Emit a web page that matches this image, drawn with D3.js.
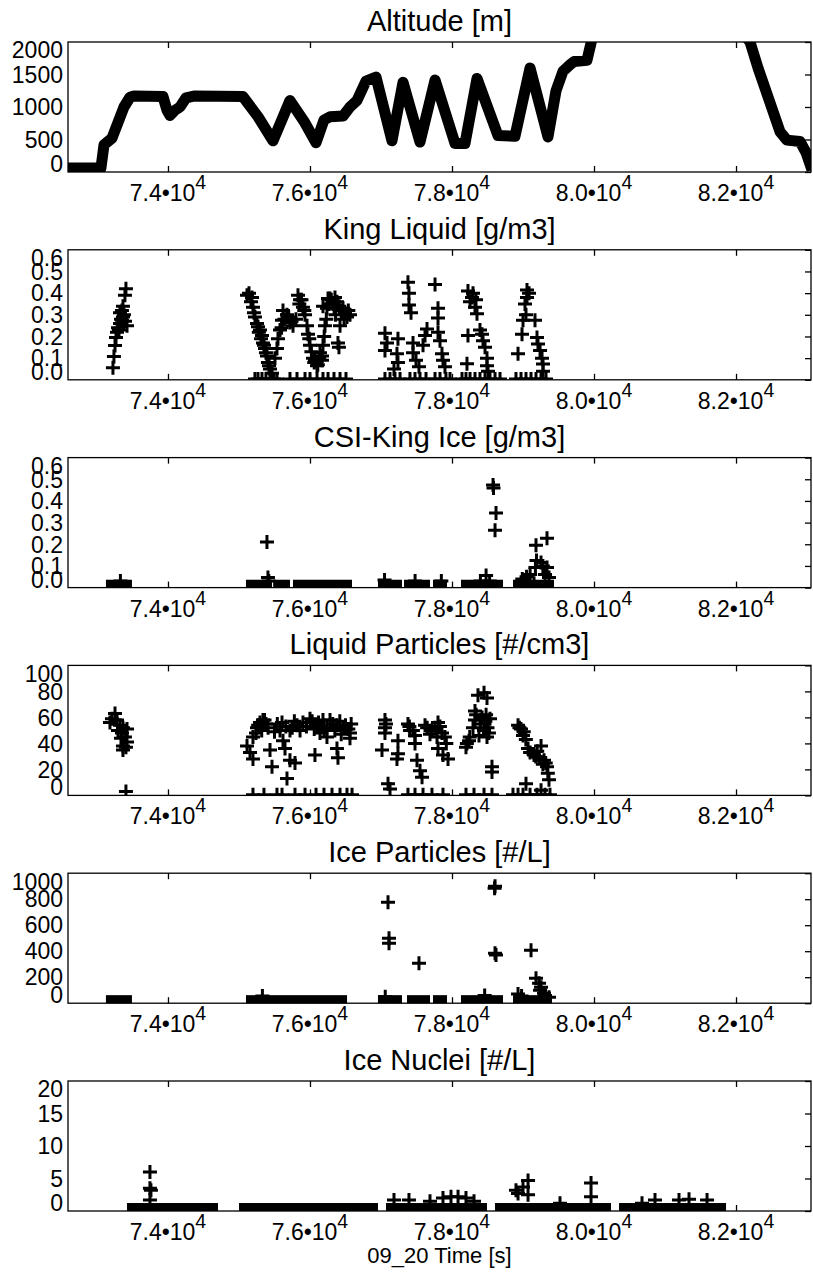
<!DOCTYPE html>
<html><head><meta charset="utf-8">
<script src="https://cdn.jsdelivr.net/npm/d3@7"></script>
<style>
html,body{margin:0;padding:0;background:#fff;}
svg{display:block;}
text{font-family:"Liberation Sans",Arial,Helvetica,sans-serif;fill:#000;}
</style></head><body>
<svg id="chart" width="813" height="1275"></svg>
<script>
// ---------------- DATA ----------------
const timeDomain = [72592, 83056];
const xTickValues = [74000, 76000, 78000, 80000, 82000];
const xTickMantissa = ["7.4", "7.6", "7.8", "8.0", "8.2"];
const xTickExponent = "4";
const xAxisLabel = "09_20 Time [s]";
const panelTitles = ["Altitude [m]", "King Liquid [g/m3]", "CSI-King Ice [g/m3]",
  "Liquid Particles [#/cm3]", "Ice Particles [#/L]", "Ice Nuclei [#/L]"];

const altitudeTicks = [0, 500, 1000, 1500, 2000];
const altitudeTickLabels = ["0", "500", "1000", "1500", "2000"];
const waterTicks = [0, 0.1, 0.2, 0.3, 0.4, 0.5, 0.6];
const waterTickLabels = ["0.0", "0.1", "0.2", "0.3", "0.4", "0.5", "0.6"];
const liquidCountTicks = [0, 20, 40, 60, 80, 100];
const liquidCountTickLabels = ["0", "20", "40", "60", "80", "100"];
const iceCountTicks = [0, 200, 400, 600, 800, 1000];
const iceCountTickLabels = ["0", "200", "400", "600", "800", "1000"];
const nucleiTicks = [0, 5, 10, 15, 20];
const nucleiTickLabels = ["0", "5", "10", "15", "20"];

// altitude [time s, m]
const altitude = [[72592,60],[73056,60],[73099,420],[73211,520],[73296,760],[73380,1000],[73465,1150],[73521,1170],
 [73930,1160],[73986,950],[74028,870],[74099,950],[74169,1000],[74254,1140],[74380,1170],[75056,1160],[75268,850],
 [75479,480],[75718,1100],[75916,780],[76085,450],[76197,800],[76282,850],[76465,860],[76563,1000],[76662,1100],
 [76789,1400],[76930,1460],[77155,480],[77310,1380],[77549,460],[77761,1415],[78042,440],[78183,440],[78352,1440],
 [78648,560],[78887,550],[79099,1600],[79352,540],[79465,1250],[79563,1550],[79662,1650],[79719,1700],[79901,1720],
 [79972,2050],[80085,2400],[80789,3000],[81493,3000],[82127,2100],[82197,2000],[82310,1600],[82620,620],[82718,490],
 [82901,470],[82986,300],[83070,30]];

// King liquid water content [time, g/m3]
const kingLiquid = [[73225,.056],[73239,.107],[73254,.158],[73268,.195],[73282,.22],[73296,.24],[73324,.26],[73352,.275],
 [73366,.29],[73423,.25],[73352,.32],[73394,.39],[73408,.42],[73324,.31],[73366,.34],[73380,.30],[73338,.28],[73310,.23],[73395,.27],
 [75113,.39],[75141,.40],[75169,.36],[75183,.38],[75197,.335],[75211,.31],[75225,.29],[75254,.26],[75268,.245],[75296,.23],
 [75310,.19],[75324,.205],[75338,.17],[75352,.16],[75366,.145],[75380,.125],[75394,.11],[75408,.08],[75423,.065],[75437,.05],
 [75465,.03],[75507,.10],[75535,.145],[75549,.19],[75578,.23],[75606,.275],[75620,.32],[75676,.30],[75718,.265],[75761,.25],
 [75803,.28],[75831,.39],[75859,.37],[75901,.335],[75930,.30],[75958,.25],[75972,.21],[76000,.16],[76042,.10],[76070,.09],
 [76099,.065],[76141,.125],[76183,.16],[76169,.11],[76169,.09],[76211,.25],[76239,.33],[76254,.375],[76183,.34],[76282,.375],
 [76324,.35],[76352,.38],[76380,.36],[76394,.17],[76408,.15],[76423,.25],[76465,.33],[76493,.31],[76521,.29],[76563,.30],
 [75280,.22],[75600,.24],[75640,.28],[75700,.29],[75740,.27],[75850,.35],[75880,.37],[75920,.32],[75990,.19],[76020,.13],
 [76060,.08],[76110,.07],[76130,.10],[76200,.20],[76230,.28],[76270,.35],[76300,.37],[76340,.33],[76360,.30],[76410,.34],
 [76440,.32],[76480,.28],[76540,.32],
 [77056,.215],[77085,.17],[77056,.135],[77239,.19],[77225,.12],[77239,.08],[77380,.45],[77394,.40],[77394,.345],[77423,.31],
 [77451,.17],[77451,.125],[77493,.09],[77592,.16],[77620,.205],[77648,.235],[77761,.44],[77803,.33],[77803,.285],[77803,.22],
 [77831,.18],[77859,.12],[77873,.09],[77901,.06],[77183,.05],[77535,.06],
 [78225,.205],[78211,.074],[78225,.41],[78254,.36],[78282,.38],[78296,.40],[78324,.335],[78338,.37],[78352,.305],[78394,.23],
 [78423,.21],[78437,.18],[78465,.15],[78493,.10],[78493,.065],[78507,.04],
 [78930,.12],[78986,.21],[79000,.275],[79028,.35],[79042,.30],[79056,.415],[79056,.38],[79085,.40],[79169,.275],[79197,.195],
 [79211,.165],[79240,.135],[79268,.10],[79282,.073],[79282,.04]];
const kingLiquidZeroTimes = [75225,75268,75324,75380,75437,75493,75535,75718,75817,75930,76000,76099,76183,76254,76338,76423,76507,
 77056,77127,77197,77268,77408,77479,77549,77634,77761,77831,77915,77972,78141,78197,78254,78324,78394,78465,78535,78606,78676,
 78901,78972,79042,79113,79183,79254,79324];
const kingLiquidZeroLevel = 0.004;

// CSI-King ice water content [time, g/m3]
const csiIce = [[75394,.21],[75408,.047],[75420,.03],[73330,.03],[77050,.035],[77480,.03],[77850,.03],[78400,.03],[78480,.056],
 [78578,.474],[78585,.46],[78620,.344],[78606,.265],[78530,.03],
 [79183,.195],[79338,.228],[79175,.093],[79254,.116],[79338,.093],[79366,.047],[79155,.02],[79190,.125],[79280,.10],
 [79100,.06],[78990,.04],[79050,.05],[79310,.06]];
// runs of consecutive near-zero readings [start time, end time]
const csiIceZeroRuns = [[73225,73394],[75197,75366],[75580,75620],[75859,76493],[77056,77197],[77423,77592],[77831,77831],
 [78225,78620],[78958,79338]];
const csiIceZeroLevel = 0.004;

// liquid particle concentration [time, #/cm3]
const liquidParticles = [[73254,63],[73183,56],[73282,58],[73324,54],[73366,52],[73423,51],[73352,48],[73394,45],[73423,41],
 [73366,38],[73366,35],[73211,59],[73296,50],[73338,44],[73408,37],[73408,3],
 [75113,38],[75197,28],[75155,33],[75197,45],[75254,52],[75296,56],[75338,58],[75380,55],[75437,35],[75465,22],[75606,56],
 [75578,50],[75620,42],[75648,36],[75676,13],[75718,27],[75789,25],[75718,50],[75817,54],[75901,56],[76000,59],[76099,54],
 [76183,58],[76141,48],[76070,31],[76239,52],[76282,58],[76380,54],[76465,52],[76563,48],[76563,44],[76380,36],[76394,29],[76239,45],
 [75240,48],[75270,54],[75320,50],[75360,58],[75410,52],[75500,49],[75540,55],[75660,53],[75750,52],[75780,57],[75860,50],
 [75950,53],[76030,57],[76060,51],[76120,56],[76160,53],[76200,50],[76320,55],[76350,50],[76420,57],[76440,47],[76500,54],
 [76540,51],[76580,55],
 [77056,58],[77056,52],[77056,48],[77014,35],[77239,42],[77239,32],[77225,28],[77099,9],[77127,5],[77380,55],[77408,50],
 [77479,46],[77479,40],[77507,27],[77549,19],[77578,14],[77620,54],[77718,50],[77803,56],[77859,48],[77803,36],[77873,31],
 [77944,28],[77789,45],[77070,55],[77400,53],[77450,50],[77650,52],[77690,47],[77760,52],[77830,53],[77900,45],[77920,40],
 [78197,37],[78240,42],[78324,58],[78324,65],[78366,77],[78451,79],[78493,75],[78423,60],[78451,50],[78493,45],[78535,59],
 [78563,22],[78563,18],[78380,46],[78296,52],[78210,40],[78250,45],[78340,62],[78400,55],[78470,57],[78520,48],[78480,62],[78500,52],
 [78930,54],[78972,51],[79000,46],[79071,36],[79155,31],[79226,29],[79254,38],[79296,27],[79338,22],[79366,12],[79042,9],[79254,4],
 [78950,52],[79010,49],[79040,43],[79100,33],[79180,30],[79200,34],[79280,24],[79320,25],[79350,17]];
const liquidParticlesZeroTimes = [75197,75352,75535,75606,75789,75930,76085,76197,76310,76423,76521,76592,
 77380,77479,77592,77718,77873,78197,78310,78451,78563,78859,78930,79000,79099,79197,79310,79380];
const liquidParticlesZeroLevel = 0.5;

// ice particle concentration [time, #/L]
const iceParticles = [[77099,777],[77113,500],[77113,461],[77535,308],[78606,900],[78600,885],[78606,385],[78620,370],
 [79113,408],[79183,192],[79226,154],[79254,123],[79296,77],[79366,46],[79240,100],[79310,60],
 [75330,55],[77060,50],[78460,60],[78930,70],[78980,55]];
const iceParticlesZeroRuns = [[73225,73394],[75197,76423],[77056,77197],[77465,77592],[77831,77831],[78225,78620],[78958,79310]];
const iceParticlesZeroLevel = 8;

// ice nuclei concentration [time, #/L]
const iceNuclei = [[73746,6.0],[73746,3.5],[73760,3.2],[73746,1.7],[77183,1.7],[77394,1.7],[77690,1.5],[77873,2.0],[77986,2.2],
 [78085,2.2],[78197,2.0],[78310,1.5],[78901,3.2],[79000,3.7],[79071,4.7],[79071,2.5],[78930,2.7],[79521,1.2],[79958,4.3],
 [79958,2.2],[80676,1.2],[80859,1.7],[81197,1.7],[81338,1.8],[81592,1.7]];
const iceNucleiZeroRuns = [[73521,74606],[75099,76859],[77169,78394],[78704,80141],[80451,81761]];
const iceNucleiZeroLevel = 0.15;

// ---------------- LAYOUT ----------------
const W = 813, H = 1275;
const plotLeft = 68, plotRight = 811, firstTop = 42, panelStep = 207.8, plotH = 130;
const tickLen = 6, half = 7;
const yLabelSize = 23, xLabelSize = 23, supSize = 19.5, titleSize = 29;

const withZeros = (pts, times, level) => pts.concat(times.map(t => [t, level]));

const panels = [
  {title: panelTitles[0], type: "line", data: altitude, domain: [0, 2000], ticks: altitudeTicks, labels: altitudeTickLabels},
  {title: panelTitles[1], type: "plus", data: withZeros(kingLiquid, kingLiquidZeroTimes, kingLiquidZeroLevel), runs: [], domain: [0, 0.6], ticks: waterTicks, labels: waterTickLabels},
  {title: panelTitles[2], type: "plus", data: csiIce, runs: csiIceZeroRuns, level: csiIceZeroLevel, domain: [0, 0.6], ticks: waterTicks, labels: waterTickLabels},
  {title: panelTitles[3], type: "plus", data: withZeros(liquidParticles, liquidParticlesZeroTimes, liquidParticlesZeroLevel), runs: [], domain: [0, 100], ticks: liquidCountTicks, labels: liquidCountTickLabels},
  {title: panelTitles[4], type: "plus", data: iceParticles, runs: iceParticlesZeroRuns, level: iceParticlesZeroLevel, domain: [0, 1000], ticks: iceCountTicks, labels: iceCountTickLabels},
  {title: panelTitles[5], type: "plus", data: iceNuclei, runs: iceNucleiZeroRuns, level: iceNucleiZeroLevel, domain: [0, 20], ticks: nucleiTicks, labels: nucleiTickLabels}
];

const svg = d3.select("#chart");
svg.append("rect").attr("width", W).attr("height", H).attr("fill", "#fff");
const defs = svg.append("defs");
const x = d3.scaleLinear().domain(timeDomain).range([plotLeft, plotRight]);

panels.forEach((p, i) => {
  const top = firstTop + i * panelStep, bottom = top + plotH;
  const y = d3.scaleLinear().domain(p.domain).range([bottom, top]);
  const g = svg.append("g");
  const cid = "clip" + i;
  defs.append("clipPath").attr("id", cid).append("rect")
    .attr("x", plotLeft).attr("y", top).attr("width", plotRight - plotLeft).attr("height", plotH);
  const plot = g.append("g").attr("clip-path", `url(#${cid})`);

  if (p.type === "line") {
    plot.append("path").datum(p.data)
      .attr("d", d3.line().x(d => x(d[0])).y(d => y(d[1])))
      .attr("fill", "none").attr("stroke", "#000").attr("stroke-width", 11)
      .attr("stroke-linejoin", "round");
  } else {
    // dense runs of near-zero '+' markers merge into solid bars
    plot.selectAll("rect.run").data(p.runs).join("rect").attr("class", "run")
      .attr("x", d => x(d[0]) - half).attr("width", d => x(d[1]) - x(d[0]) + 2 * half)
      .attr("y", y(p.level || 0) - half).attr("height", 2 * half)
      .attr("fill", "#000");
    plot.selectAll("path.m").data(p.data).join("path").attr("class", "m")
      .attr("transform", d => `translate(${x(d[0])},${y(d[1])})`)
      .attr("d", `M${-half},0H${half}M0,${-half}V${half}`)
      .attr("stroke", "#000").attr("stroke-width", 3).attr("fill", "none");
  }

  // frame
  g.append("rect").attr("x", plotLeft).attr("y", top).attr("width", plotRight - plotLeft).attr("height", plotH)
    .attr("fill", "none").attr("stroke", "#000").attr("stroke-width", 1.3);

  // ticks via d3 axes (inward)
  const axB = g.append("g").attr("transform", `translate(0,${bottom})`)
    .call(d3.axisBottom(x).tickValues(xTickValues).tickSize(-tickLen).tickFormat(""));
  const axT = g.append("g").attr("transform", `translate(0,${top})`)
    .call(d3.axisTop(x).tickValues(xTickValues).tickSize(-tickLen).tickFormat(""));
  const axR = g.append("g").attr("transform", `translate(${plotRight},0)`)
    .call(d3.axisRight(y).tickValues(p.ticks).tickSize(-tickLen).tickFormat(""));
  [axB, axT, axR].forEach(a => {
    a.select(".domain").remove();
    a.selectAll("line").attr("stroke", "#000").attr("stroke-width", 1.3);
  });

  // y tick labels (end labels kept inside the frame height)
  const capH = 0.716 * yLabelSize;
  p.ticks.forEach((v, k) => {
    let base;
    if (k === 0) base = bottom;
    else if (k === p.ticks.length - 1) base = top + capH;
    else base = y(v) + capH / 2;
    g.append("text").attr("x", plotLeft - 5).attr("y", base)
      .attr("text-anchor", "end").attr("font-size", yLabelSize).text(p.labels[k]);
  });

  // x tick labels with superscript exponent
  xTickValues.forEach((v, k) => {
    const t = g.append("text").attr("x", x(v)).attr("y", bottom + 29)
      .attr("text-anchor", "middle").attr("font-size", xLabelSize);
    t.append("tspan").text(xTickMantissa[k] + "\u202210");
    t.append("tspan").attr("dy", -12).attr("font-size", supSize).text(xTickExponent);
  });

  // title
  g.append("text").attr("x", (plotLeft + plotRight) / 2).attr("y", top - 11)
    .attr("text-anchor", "middle").attr("font-size", titleSize).text(p.title);
});

svg.append("text").attr("x", (plotLeft + plotRight) / 2).attr("y", 1263)
  .attr("text-anchor", "middle").attr("font-size", 22).text(xAxisLabel);
</script></body></html>
